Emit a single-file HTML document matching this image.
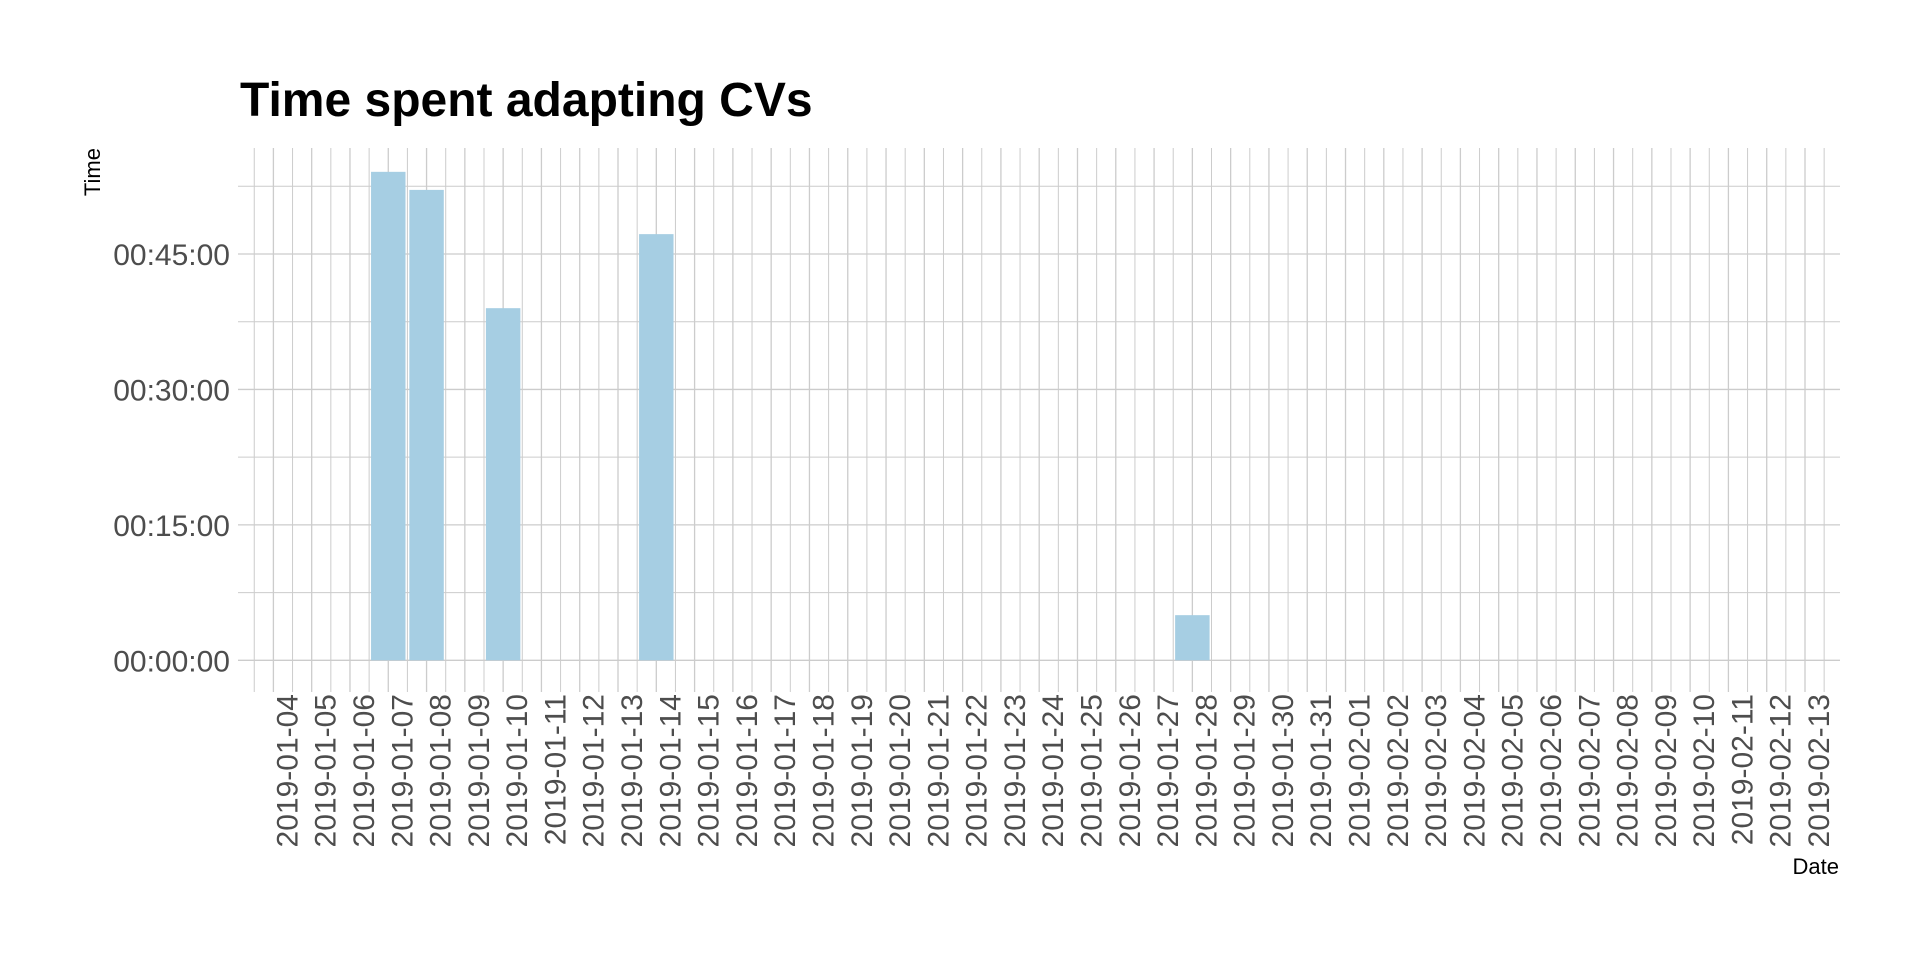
<!DOCTYPE html>
<html><head><meta charset="utf-8"><style>
html,body{margin:0;padding:0;background:#fff;}
svg{display:block;font-family:"Liberation Sans",Arial,sans-serif;}
</style></head><body>
<svg id="chart" width="1920" height="960" viewBox="0 0 1920 960" xmlns="http://www.w3.org/2000/svg">
<text x="240" y="116" font-size="48" font-weight="bold" fill="#000">Time spent adapting CVs</text>
<text transform="translate(100,148) rotate(-90)" text-anchor="end" font-size="22" fill="#000">Time</text>
<text x="1839" y="874" text-anchor="end" font-size="22" fill="#000">Date</text>
<g id="grid"></g>
<g id="bars"></g>
<g id="ylabels"></g>
<g id="xlabels"></g>
</svg>
<script>
const categories = (function(){const a=[];for(let d=4;d<=31;d++)a.push('2019-01-'+String(d).padStart(2,'0'));for(let d=1;d<=13;d++)a.push('2019-02-'+String(d).padStart(2,'0'));return a;})();
const barDates = ['2019-01-07','2019-01-08','2019-01-10','2019-01-14','2019-01-28'];
const barMinutes = [54.1, 52.1, 39.0, 47.2, 5.0];
const yTicks = [0, 15, 30, 45];
const yTickLabels = ['00:00:00','00:15:00','00:30:00','00:45:00'];

const NS='http://www.w3.org/2000/svg';
const firstX=273.4, step=38.29, y0=660.3, pxPerMin=9.029;
const panelL=238, panelR=1840, panelT=148, panelB=692;
function xPos(i){return firstX+i*step;}
function yPos(m){return y0-m*pxPerMin;}
function mk(tag,attrs,parent){const e=document.createElementNS(NS,tag);for(const k in attrs)e.setAttribute(k,attrs[k]);parent.appendChild(e);return e;}

const grid=document.getElementById('grid');
// horizontal minor + major
for(let m=-7.5;m<=60;m+=7.5){const y=yPos(m);if(y<panelT||y>panelB)continue;
  const l=mk('line',{x1:panelL,x2:panelR,y1:y,y2:y,stroke:'#cccccc','stroke-width':Number.isInteger(m/15)?1.3:1},grid);
  
  }
// vertical lines
for(let i=-0.5;i<=categories.length-0.5;i+=0.5){const x=xPos(i);
  const l=mk('line',{x1:x,x2:x,y1:panelT,y2:panelB,stroke:'#cccccc','stroke-width':Number.isInteger(i)?1.3:1},grid);
  
  }

const bars=document.getElementById('bars');
barDates.forEach((d,k)=>{const i=categories.indexOf(d);const w=step*0.9;
  const r=mk('rect',{x:xPos(i)-w/2,y:yPos(barMinutes[k]),width:w,height:yPos(0)-yPos(barMinutes[k]),fill:'#a6cee3'},bars);
  
  });

const yl=document.getElementById('ylabels');
yTicks.forEach((m,k)=>{const t=mk('text',{x:230,y:yPos(m)+11,'text-anchor':'end','font-size':30,fill:'#4d4d4d'},yl);t.textContent=yTickLabels[k];
  
  });

const xl=document.getElementById('xlabels');
categories.forEach((c,i)=>{const t=mk('text',{transform:'translate('+(xPos(i)+24)+',694) rotate(-90)','text-anchor':'end','font-size':30,fill:'#4d4d4d'},xl);t.textContent=c;
  
  });
</script>
</body></html>
